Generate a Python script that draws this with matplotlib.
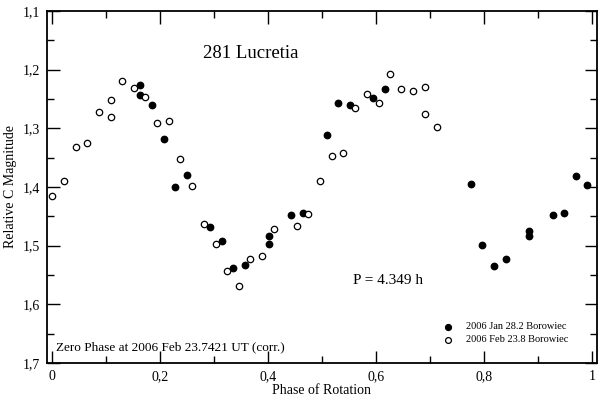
import matplotlib
matplotlib.use("Agg")
import matplotlib.pyplot as plt
from matplotlib.ticker import MultipleLocator, FuncFormatter

plt.rcParams['font.family'] = ['Liberation Serif', 'DejaVu Serif']

# 2006 Jan 28.2 Borowiec (filled)
jan_phase = [0.164, 0.164, 0.185, 0.207, 0.228, 0.250, 0.293, 0.315, 0.336, 0.358,
             0.401, 0.401, 0.443, 0.464, 0.509, 0.530, 0.552, 0.595, 0.616, 0.776,
             0.797, 0.819, 0.840, 0.883, 0.883, 0.927, 0.948, 0.970, 0.991]
jan_mag = [1.226, 1.244, 1.260, 1.319, 1.400, 1.380, 1.468, 1.492, 1.538, 1.533,
           1.483, 1.498, 1.448, 1.444, 1.311, 1.256, 1.260, 1.249, 1.233, 1.395,
           1.499, 1.535, 1.523, 1.475, 1.484, 1.448, 1.444, 1.382, 1.397]

# 2006 Feb 23.8 Borowiec (open)
feb_phase = [0.000, 0.023, 0.044, 0.065, 0.087, 0.109, 0.109, 0.130, 0.152, 0.173,
             0.194, 0.216, 0.238, 0.260, 0.281, 0.303, 0.324, 0.346, 0.367, 0.389,
             0.411, 0.453, 0.475, 0.497, 0.518, 0.539, 0.561, 0.583, 0.605, 0.626,
             0.647, 0.669, 0.691, 0.691, 0.712]
feb_mag = [1.415, 1.390, 1.332, 1.325, 1.273, 1.252, 1.280, 1.219, 1.232, 1.247,
           1.291, 1.287, 1.352, 1.398, 1.463, 1.497, 1.543, 1.568, 1.523, 1.518,
           1.472, 1.466, 1.446, 1.389, 1.347, 1.342, 1.265, 1.241, 1.256, 1.207,
           1.233, 1.236, 1.229, 1.276, 1.297]

fig = plt.figure(figsize=(6.0, 3.98), dpi=100)
ax = fig.add_axes([47/600, 1 - 363/398, 550/600, 352/398])

ax.plot(jan_phase, jan_mag, 'o', color='black', markersize=4.6, linestyle='none')
ax.plot(feb_phase, feb_mag, 'o', markerfacecolor='white', markeredgecolor='black',
        markeredgewidth=0.9, markersize=4.6, linestyle='none')

ax.set_xlim(-0.009, 1.009)
ax.set_ylim(1.7, 1.1)

comma = FuncFormatter(lambda v, p: ('%g' % round(v, 3)).replace('.', ','))
ax.xaxis.set_major_locator(MultipleLocator(0.2))
ax.xaxis.set_minor_locator(MultipleLocator(0.1))
ax.yaxis.set_major_locator(MultipleLocator(0.1))
ax.yaxis.set_minor_locator(MultipleLocator(0.05))
ax.xaxis.set_major_formatter(comma)
ax.yaxis.set_major_formatter(comma)
ax.tick_params(which='both', direction='in', top=True, right=True, labelsize=10, width=1)
ax.tick_params(which='major', length=9, pad=5)
ax.tick_params(which='minor', length=5)
for s in ax.spines.values():
    s.set_linewidth(1.3)

ax.set_xlabel('Phase of Rotation', fontsize=10, labelpad=1)
ax.set_ylabel('Relative C Magnitude', fontsize=10, labelpad=4)

ax.text(0.369, 1.173, '281 Lucretia', fontsize=13.5, ha='center', va='center')
ax.text(0.623, 1.56, 'P = 4.349 h', fontsize=11, ha='center', va='center')
ax.text(0.007, 1.674, 'Zero Phase at 2006 Feb 23.7421 UT (corr.)', fontsize=9.5,
        ha='left', va='center')

# legend drawn as marker + text rows
ax.plot([0.733], [1.638], 'o', color='black', markersize=4.2)
ax.plot([0.733], [1.660], 'o', markerfacecolor='white', markeredgecolor='black',
        markeredgewidth=0.9, markersize=4.2)
ax.text(0.766, 1.638, '2006 Jan 28.2 Borowiec', fontsize=7.5, ha='left', va='center')
ax.text(0.766, 1.660, '2006 Feb 23.8 Borowiec', fontsize=7.5, ha='left', va='center')

fig.savefig('out.png', dpi=100)
